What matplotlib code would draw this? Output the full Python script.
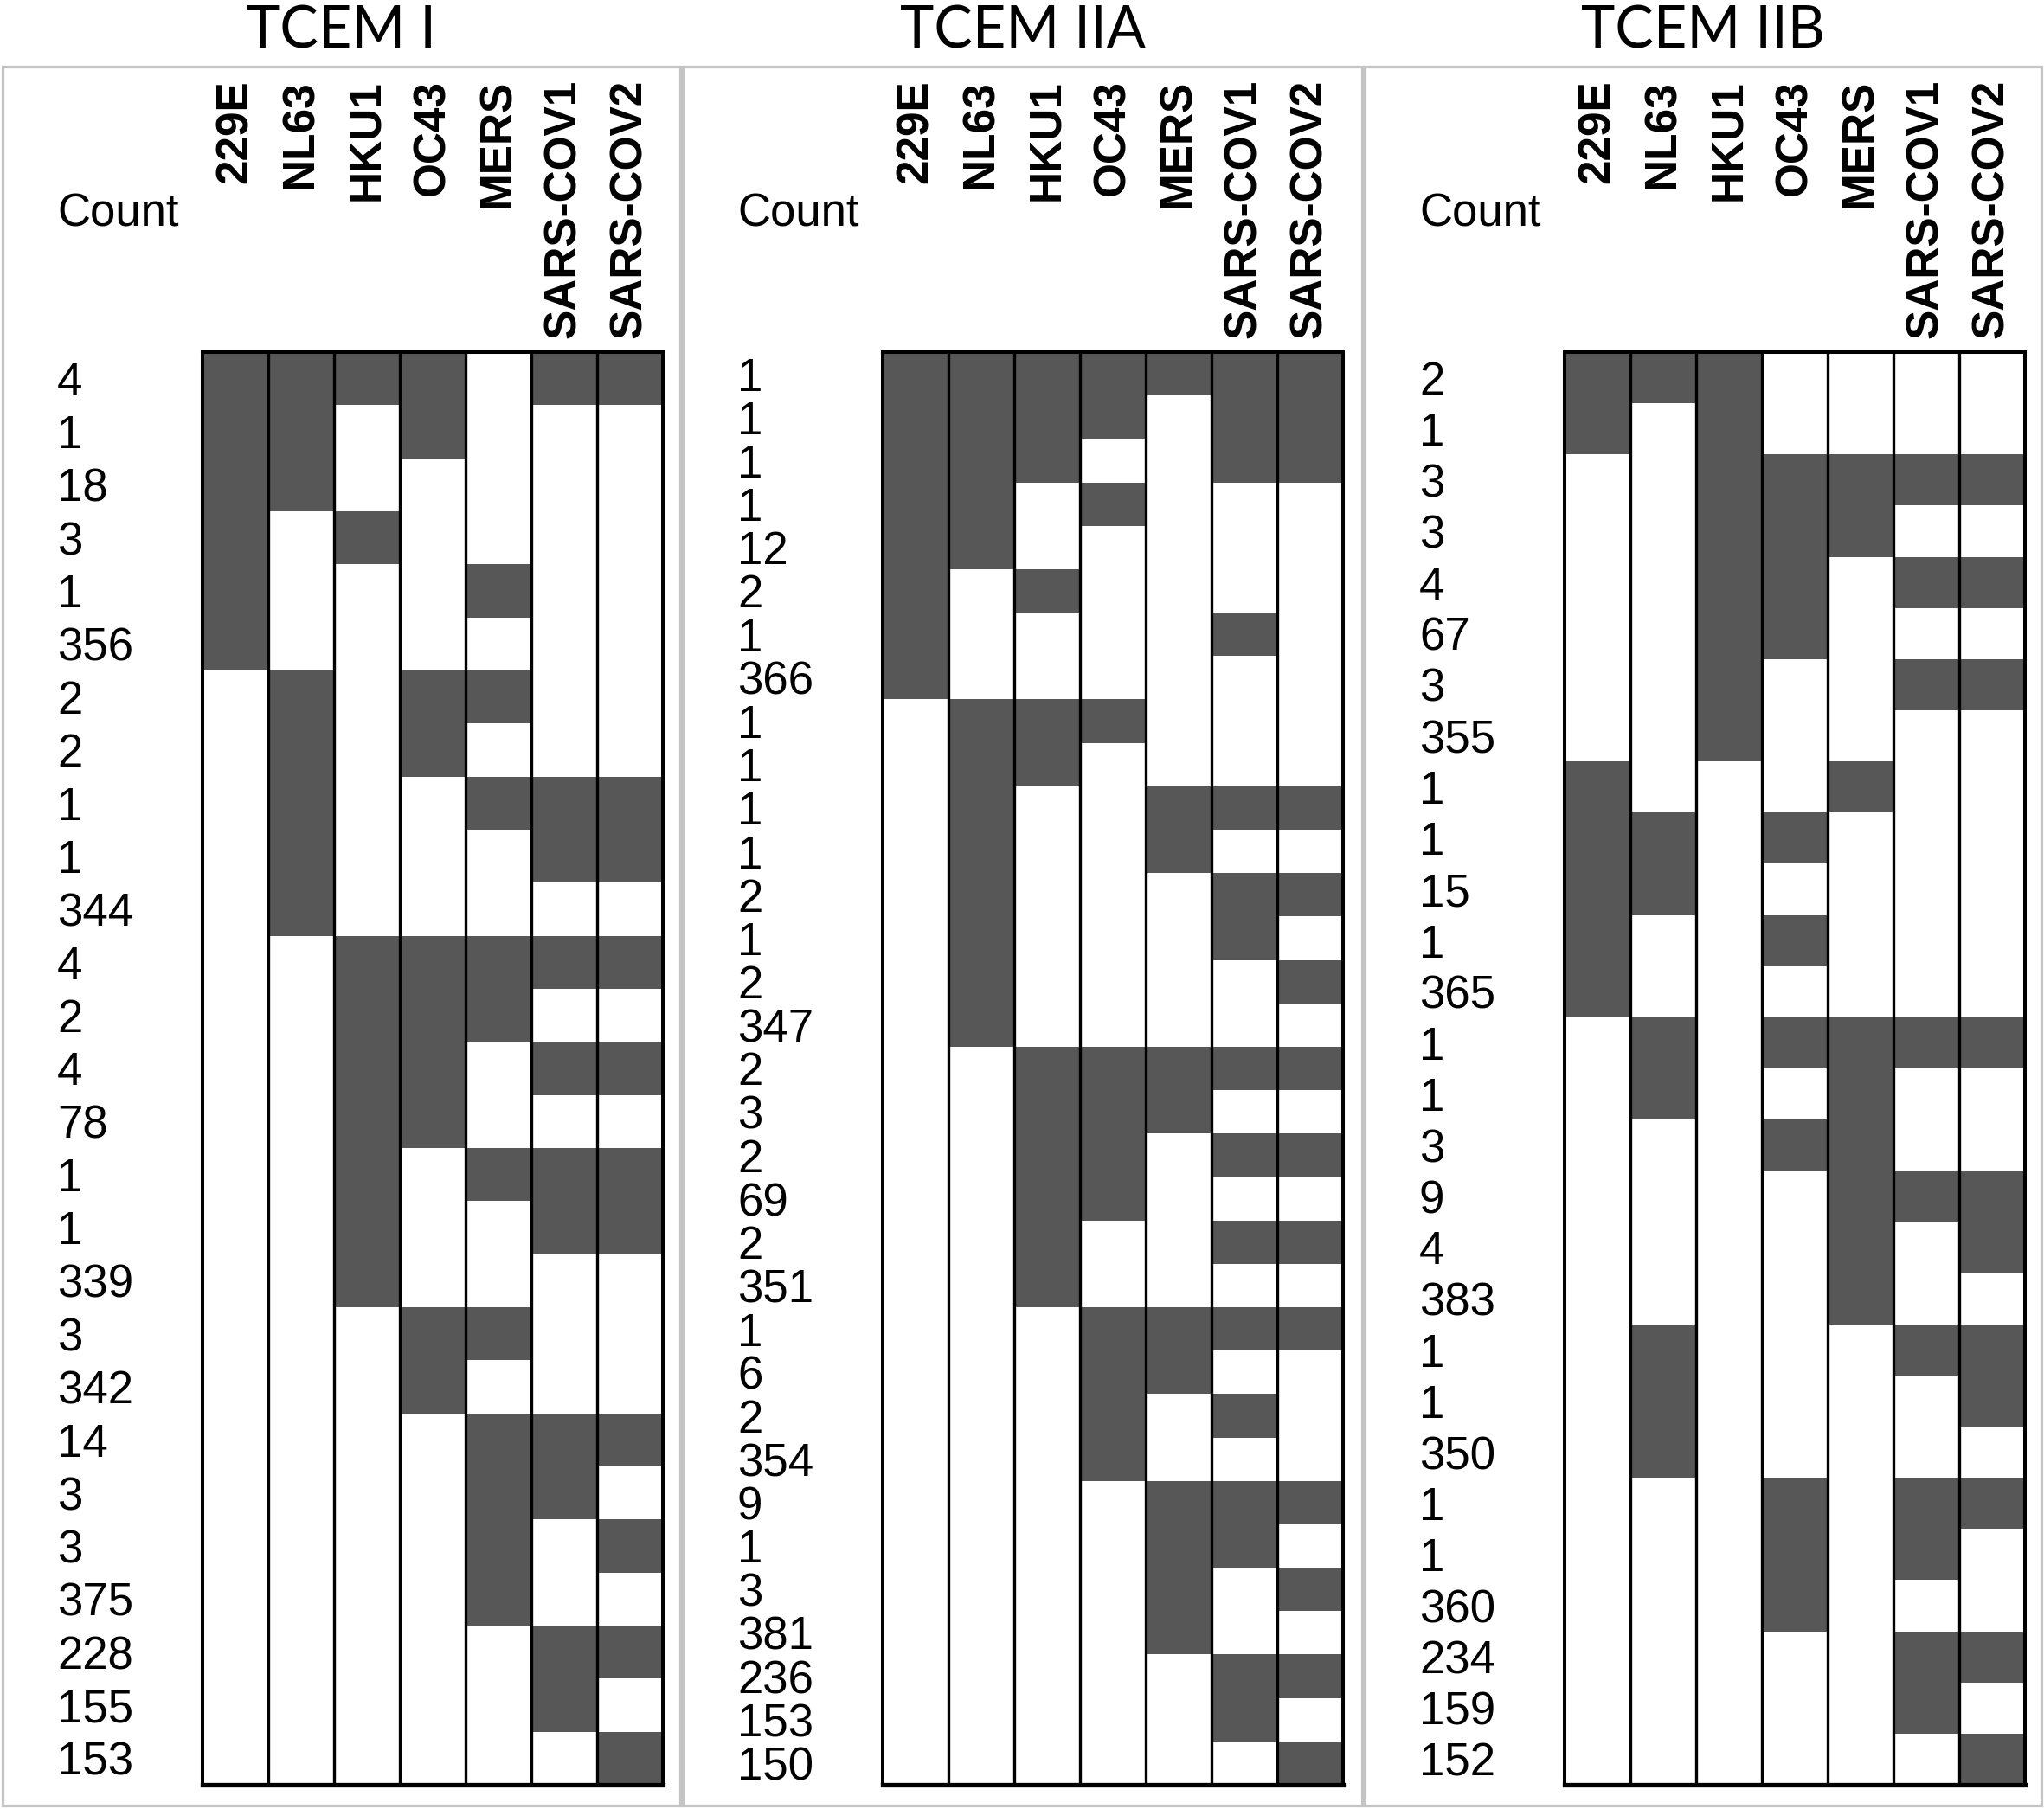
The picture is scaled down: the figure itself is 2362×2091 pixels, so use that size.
import numpy as np
import matplotlib
matplotlib.use("Agg")
import matplotlib.pyplot as plt
from matplotlib.colors import ListedColormap
from matplotlib.patches import Rectangle

viruses = ["229E", "NL63", "HKU1", "OC43", "MERS", "SARS-COV1", "SARS-COV2"]
titles = ["TCEM I", "TCEM IIA", "TCEM IIB"]

tcem1_counts = [4, 1, 18, 3, 1, 356, 2, 2, 1, 1, 344, 4, 2, 4, 78, 1, 1, 339,
                3, 342, 14, 3, 3, 375, 228, 155, 153]
tcem1_matrix = [
    [1, 1, 1, 1, 0, 1, 1],
    [1, 1, 0, 1, 0, 0, 0],
    [1, 1, 0, 0, 0, 0, 0],
    [1, 0, 1, 0, 0, 0, 0],
    [1, 0, 0, 0, 1, 0, 0],
    [1, 0, 0, 0, 0, 0, 0],
    [0, 1, 0, 1, 1, 0, 0],
    [0, 1, 0, 1, 0, 0, 0],
    [0, 1, 0, 0, 1, 1, 1],
    [0, 1, 0, 0, 0, 1, 1],
    [0, 1, 0, 0, 0, 0, 0],
    [0, 0, 1, 1, 1, 1, 1],
    [0, 0, 1, 1, 1, 0, 0],
    [0, 0, 1, 1, 0, 1, 1],
    [0, 0, 1, 1, 0, 0, 0],
    [0, 0, 1, 0, 1, 1, 1],
    [0, 0, 1, 0, 0, 1, 1],
    [0, 0, 1, 0, 0, 0, 0],
    [0, 0, 0, 1, 1, 0, 0],
    [0, 0, 0, 1, 0, 0, 0],
    [0, 0, 0, 0, 1, 1, 1],
    [0, 0, 0, 0, 1, 1, 0],
    [0, 0, 0, 0, 1, 0, 1],
    [0, 0, 0, 0, 1, 0, 0],
    [0, 0, 0, 0, 0, 1, 1],
    [0, 0, 0, 0, 0, 1, 0],
    [0, 0, 0, 0, 0, 0, 1],
]

tcem2a_counts = [1, 1, 1, 1, 12, 2, 1, 366, 1, 1, 1, 1, 2, 1, 2, 347, 2, 3, 2,
                 69, 2, 351, 1, 6, 2, 354, 9, 1, 3, 381, 236, 153, 150]
tcem2a_matrix = [
    [1, 1, 1, 1, 1, 1, 1],
    [1, 1, 1, 1, 0, 1, 1],
    [1, 1, 1, 0, 0, 1, 1],
    [1, 1, 0, 1, 0, 0, 0],
    [1, 1, 0, 0, 0, 0, 0],
    [1, 0, 1, 0, 0, 0, 0],
    [1, 0, 0, 0, 0, 1, 0],
    [1, 0, 0, 0, 0, 0, 0],
    [0, 1, 1, 1, 0, 0, 0],
    [0, 1, 1, 0, 0, 0, 0],
    [0, 1, 0, 0, 1, 1, 1],
    [0, 1, 0, 0, 1, 0, 0],
    [0, 1, 0, 0, 0, 1, 1],
    [0, 1, 0, 0, 0, 1, 0],
    [0, 1, 0, 0, 0, 0, 1],
    [0, 1, 0, 0, 0, 0, 0],
    [0, 0, 1, 1, 1, 1, 1],
    [0, 0, 1, 1, 1, 0, 0],
    [0, 0, 1, 1, 0, 1, 1],
    [0, 0, 1, 1, 0, 0, 0],
    [0, 0, 1, 0, 0, 1, 1],
    [0, 0, 1, 0, 0, 0, 0],
    [0, 0, 0, 1, 1, 1, 1],
    [0, 0, 0, 1, 1, 0, 0],
    [0, 0, 0, 1, 0, 1, 0],
    [0, 0, 0, 1, 0, 0, 0],
    [0, 0, 0, 0, 1, 1, 1],
    [0, 0, 0, 0, 1, 1, 0],
    [0, 0, 0, 0, 1, 0, 1],
    [0, 0, 0, 0, 1, 0, 0],
    [0, 0, 0, 0, 0, 1, 1],
    [0, 0, 0, 0, 0, 1, 0],
    [0, 0, 0, 0, 0, 0, 1],
]

tcem2b_counts = [2, 1, 3, 3, 4, 67, 3, 355, 1, 1, 15, 1, 365, 1, 1, 3, 9, 4,
                 383, 1, 1, 350, 1, 1, 360, 234, 159, 152]
tcem2b_matrix = [
    [1, 1, 1, 0, 0, 0, 0],
    [1, 0, 1, 0, 0, 0, 0],
    [0, 0, 1, 1, 1, 1, 1],
    [0, 0, 1, 1, 1, 0, 0],
    [0, 0, 1, 1, 0, 1, 1],
    [0, 0, 1, 1, 0, 0, 0],
    [0, 0, 1, 0, 0, 1, 1],
    [0, 0, 1, 0, 0, 0, 0],
    [1, 0, 0, 0, 1, 0, 0],
    [1, 1, 0, 1, 0, 0, 0],
    [1, 1, 0, 0, 0, 0, 0],
    [1, 0, 0, 1, 0, 0, 0],
    [1, 0, 0, 0, 0, 0, 0],
    [0, 1, 0, 1, 1, 1, 1],
    [0, 1, 0, 0, 1, 0, 0],
    [0, 0, 0, 1, 1, 0, 0],
    [0, 0, 0, 0, 1, 1, 1],
    [0, 0, 0, 0, 1, 0, 1],
    [0, 0, 0, 0, 1, 0, 0],
    [0, 1, 0, 0, 0, 1, 1],
    [0, 1, 0, 0, 0, 0, 1],
    [0, 1, 0, 0, 0, 0, 0],
    [0, 0, 0, 1, 0, 1, 1],
    [0, 0, 0, 1, 0, 1, 0],
    [0, 0, 0, 1, 0, 0, 0],
    [0, 0, 0, 0, 0, 1, 1],
    [0, 0, 0, 0, 0, 1, 0],
    [0, 0, 0, 0, 0, 0, 1],
]

panels = [(tcem1_counts, tcem1_matrix),
          (tcem2a_counts, tcem2a_matrix),
          (tcem2b_counts, tcem2b_matrix)]

# ---- layout (pixels) ----
W, H = 2362, 2091
DPI = 100
fig = plt.figure(figsize=(W / DPI, H / DPI), dpi=DPI)
fig.patch.set_facecolor("white")

box_left = [3, 789, 1577]
box_right = [786, 1574, 2359]
box_top, box_bot = 77, 2087
grid_off, grid_w = 231, 532
grid_top, grid_bot = 407, 2063
head_top = 92
label_left = 63
count_y = 248
title_base = 56

px2pt = 72.0 / DPI
dark = "#575757"
cmap = ListedColormap(["white", dark])

for p, (counts, matrix) in enumerate(panels):
    L = box_left[p]
    R = box_right[p]
    # panel frame
    fig.add_artist(Rectangle((L / W, 1 - box_bot / H), (R - L) / W,
                             (box_bot - box_top) / H, transform=fig.transFigure,
                             fill=False, ec="#c4c4c4", lw=2.3, zorder=0))
    # title
    fig.text((L + R) / 2 / W, 1 - title_base / H, titles[p], ha="center",
             va="baseline", fontsize=48, family="Lato", color="black")
    # Count header
    fig.text((L + label_left) / W, 1 - count_y / H, "Count", ha="left",
             va="center", fontsize=38, family="Liberation Sans", color="black")

    gx0 = L + grid_off
    ax = fig.add_axes([gx0 / W, 1 - grid_bot / H, grid_w / W,
                       (grid_bot - grid_top) / H])
    M = np.array(matrix)
    nrow, ncol = M.shape
    ax.pcolormesh(np.arange(ncol + 1), np.arange(nrow + 1), M, cmap=cmap,
                  vmin=0, vmax=1, edgecolors="none", antialiased=False)
    ax.set_xlim(0, ncol)
    ax.set_ylim(nrow, 0)
    ax.vlines(np.arange(1, ncol), 0, nrow, colors="black", lw=2.4)
    for s in ax.spines.values():
        s.set_linewidth(2.9)
        s.set_color("black")
    ax.spines["bottom"].set_linewidth(3.8)

    # column headers on top
    ax.set_xticks(np.arange(ncol) + 0.5)
    ax.set_xticklabels(viruses, rotation=90, fontsize=37, fontweight="bold",
                       family="Liberation Sans", va="top", ha="center")
    ax.tick_params(axis="x", top=True, bottom=False, labeltop=True,
                   labelbottom=False, length=0,
                   pad=(grid_top - head_top) * px2pt)
    for t in ax.get_xticklabels():
        t.set_verticalalignment("top")

    # counts on left
    ax.set_yticks(np.arange(nrow) + 0.5)
    ax.set_yticklabels([str(c) for c in counts], fontsize=38,
                       family="Liberation Sans")
    ax.tick_params(axis="y", length=0,
                   pad=(grid_off - label_left) * px2pt)
    for t in ax.get_yticklabels():
        t.set_horizontalalignment("left")

fig.savefig("out.png", dpi=DPI, facecolor="white")
